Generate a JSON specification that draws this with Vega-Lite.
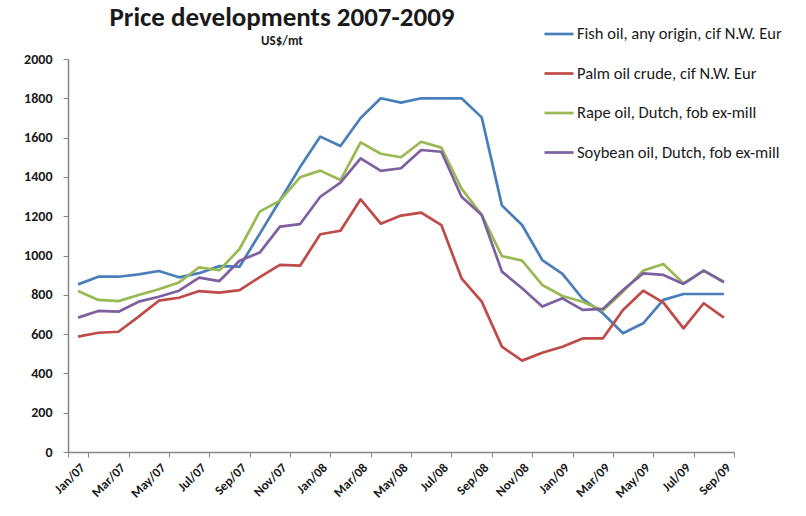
{
  "$schema": "https://vega.github.io/schema/vega-lite/v6.json",
  "width": 666,
  "height": 393,
  "autosize": {"type": "none"},
  "padding": {"left": 68, "top": 59, "right": 72, "bottom": 64},
  "background": "white",
  "title": {
    "text": "Price developments 2007-2009",
    "subtitle": "\u00a0\u00a0\u00a0\u00a0\u00a0\u00a0\u00a0\u00a0US$/mt",
    "anchor": "middle",
    "frame": "group",
    "dx": -119,
    "offset": -31,
    "font": "Carlito, 'Liberation Sans Narrow', 'DejaVu Sans Condensed', sans-serif",
    "fontSize": 27,
    "fontWeight": "bold",
    "color": "#1a1a1a",
    "subtitleFont": "Carlito, 'Liberation Sans Narrow', 'DejaVu Sans Condensed', sans-serif",
    "subtitleFontSize": 13,
    "subtitleFontWeight": "bold",
    "subtitleColor": "#1a1a1a",
    "subtitlePadding": 3
  },
  "data": {
    "values": [
      {"m": "Jan/07", "fish": 853, "palm": 587, "rape": 819, "soy": 684},
      {"m": "Feb/07", "fish": 892, "palm": 607, "rape": 774, "soy": 718},
      {"m": "Mar/07", "fish": 892, "palm": 612, "rape": 768, "soy": 714},
      {"m": "Apr/07", "fish": 904, "palm": 689, "rape": 799, "soy": 765},
      {"m": "May/07", "fish": 921, "palm": 770, "rape": 828, "soy": 790},
      {"m": "Jun/07", "fish": 889, "palm": 785, "rape": 863, "soy": 821},
      {"m": "Jul/07", "fish": 910, "palm": 819, "rape": 940, "soy": 887},
      {"m": "Aug/07", "fish": 946, "palm": 811, "rape": 925, "soy": 870},
      {"m": "Sep/07", "fish": 943, "palm": 824, "rape": 1033, "soy": 973},
      {"m": "Oct/07", "fish": 1110, "palm": 890, "rape": 1223, "soy": 1015},
      {"m": "Nov/07", "fish": 1280, "palm": 952, "rape": 1279, "soy": 1147},
      {"m": "Dec/07", "fish": 1450, "palm": 948, "rape": 1398, "soy": 1160},
      {"m": "Jan/08", "fish": 1605, "palm": 1108, "rape": 1432, "soy": 1299},
      {"m": "Feb/08", "fish": 1557, "palm": 1126, "rape": 1384, "soy": 1371},
      {"m": "Mar/08", "fish": 1700, "palm": 1286, "rape": 1576, "soy": 1494},
      {"m": "Apr/08", "fish": 1800, "palm": 1162, "rape": 1518, "soy": 1431},
      {"m": "May/08", "fish": 1778, "palm": 1203, "rape": 1500, "soy": 1444},
      {"m": "Jun/08", "fish": 1800, "palm": 1218, "rape": 1579, "soy": 1537},
      {"m": "Jul/08", "fish": 1800, "palm": 1155, "rape": 1549, "soy": 1528},
      {"m": "Aug/08", "fish": 1800, "palm": 884, "rape": 1340, "soy": 1299},
      {"m": "Sep/08", "fish": 1703, "palm": 765, "rape": 1207, "soy": 1206},
      {"m": "Oct/08", "fish": 1255, "palm": 536, "rape": 997, "soy": 918},
      {"m": "Nov/08", "fish": 1155, "palm": 465, "rape": 974, "soy": 833},
      {"m": "Dec/08", "fish": 977, "palm": 505, "rape": 850, "soy": 740},
      {"m": "Jan/09", "fish": 906, "palm": 536, "rape": 794, "soy": 782},
      {"m": "Feb/09", "fish": 780, "palm": 578, "rape": 765, "soy": 723},
      {"m": "Mar/09", "fish": 706, "palm": 578, "rape": 720, "soy": 728},
      {"m": "Apr/09", "fish": 604, "palm": 723, "rape": 816, "soy": 824},
      {"m": "May/09", "fish": 655, "palm": 821, "rape": 923, "soy": 909},
      {"m": "Jun/09", "fish": 774, "palm": 760, "rape": 957, "soy": 901},
      {"m": "Jul/09", "fish": 804, "palm": 629, "rape": 858, "soy": 855},
      {"m": "Aug/09", "fish": 804, "palm": 757, "rape": 923, "soy": 923},
      {"m": "Sep/09", "fish": 804, "palm": 684, "rape": 867, "soy": 864}
    ]
  },
  "transform": [
    {"fold": ["fish", "palm", "rape", "soy"], "as": ["series", "value"]}
  ],
  "mark": {"type": "line", "strokeWidth": 2.7, "strokeJoin": "round"},
  "encoding": {
    "x": {
      "field": "m",
      "type": "ordinal",
      "sort": null,
      "bandPosition": 0.5,
      "scale": {"type": "band", "paddingInner": 0, "paddingOuter": 0},
      "axis": {
        "title": null,
        "values": ["Jan/07", "Mar/07", "May/07", "Jul/07", "Sep/07", "Nov/07", "Jan/08", "Mar/08", "May/08", "Jul/08", "Sep/08", "Nov/08", "Jan/09", "Mar/09", "May/09", "Jul/09", "Sep/09"],
        "tickBand": "extent",
        "labelAngle": -45,
        "labelAlign": "right",
        "labelBaseline": "top",
        "labelFontSize": 13,
        "labelFontWeight": "bold",
        "labelPadding": 4,
        "tickSize": 5,
        "domainColor": "#868686",
        "tickColor": "#868686",
        "domainWidth": 1.5
      }
    },
    "y": {
      "field": "value",
      "type": "quantitative",
      "scale": {"domain": [0, 2000], "nice": false},
      "axis": {
        "title": null,
        "format": "d",
        "values": [0, 200, 400, 600, 800, 1000, 1200, 1400, 1600, 1800, 2000],
        "grid": false,
        "labelFontSize": 14,
        "labelFontWeight": "bold",
        "labelPadding": 11,
        "tickSize": 5,
        "domainColor": "#868686",
        "tickColor": "#868686",
        "domainWidth": 1.5
      }
    },
    "color": {
      "field": "series",
      "type": "nominal",
      "scale": {"domain": ["fish", "palm", "rape", "soy"], "range": ["#4A7EBB", "#BE4B48", "#98B954", "#7D60A0"]},
      "legend": {
        "title": null,
        "orient": "none",
        "legendX": 475,
        "legendY": -41,
        "symbolType": "stroke",
        "symbolSize": 841,
        "symbolStrokeWidth": 2.7,
        "labelFontSize": 16.5,
        "labelOffset": 2,
        "rowPadding": 14.5,
        "labelLimit": 300,
        "labelExpr": "datum.value == 'fish' ? 'Fish oil, any origin, cif N.W. Eur' : datum.value == 'palm' ? 'Palm oil crude, cif N.W. Eur' : datum.value == 'rape' ? 'Rape oil, Dutch, fob ex-mill' : 'Soybean oil, Dutch, fob ex-mill'"
      }
    }
  },
  "config": {
    "view": {"stroke": null},
    "font": "Carlito, 'Liberation Sans Narrow', 'DejaVu Sans Condensed', sans-serif",
    "axis": {"labelColor": "#1a1a1a"},
    "legend": {"labelColor": "#1a1a1a"}
  }
}
